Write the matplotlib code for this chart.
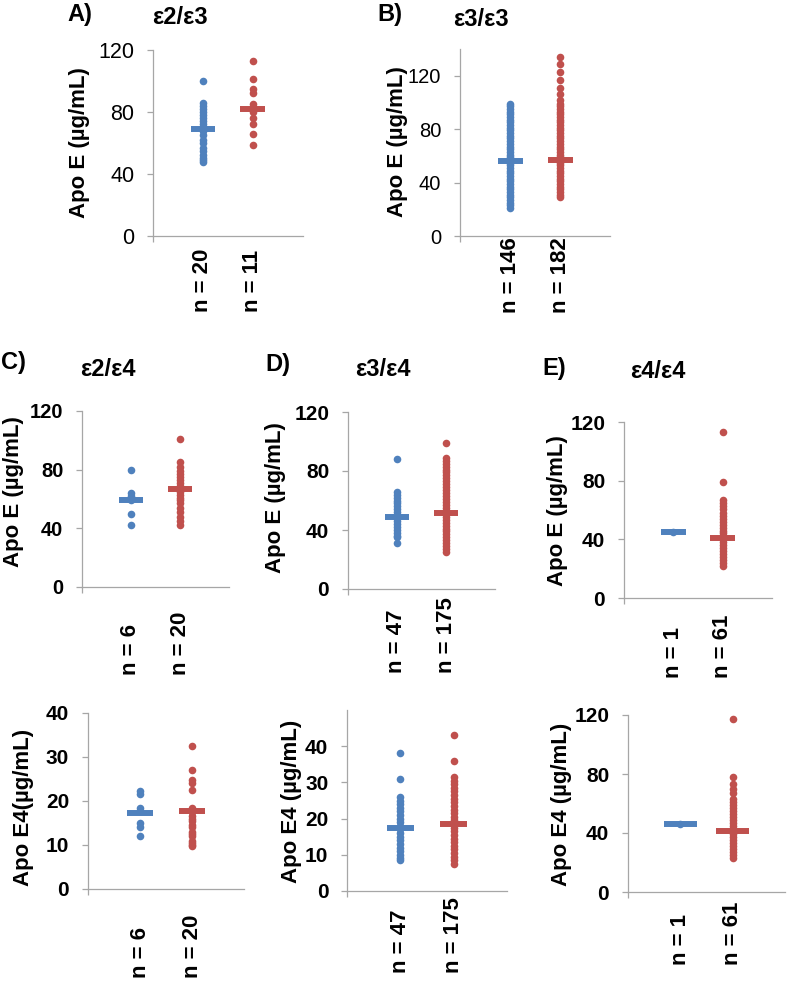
import matplotlib.pyplot as plt
from matplotlib.transforms import blended_transform_factory

plt.rcParams['font.family'] = ['Liberation Sans', 'DejaVu Sans']

W, H = 789, 981
blue = '#4F81BD'
red = '#C0504D'
grey = '#A6A6A6'
groups = [1, 2]

# A) e2/e3 - Apo E
a_blue = [100, 86, 84, 82, 80, 78, 76, 74, 72, 70, 68, 65, 62, 60, 57, 55, 52, 50, 49, 48]
a_red = [113, 101, 95, 92, 85, 82, 80, 76, 72, 66, 59]
a_means = [69, 82]
a_n = ['n = 20', 'n = 11']

# B) e3/e3 - Apo E
b_blue = [99, 97, 95, 93, 91, 89, 87, 85, 83, 81, 79, 77, 75, 73, 71, 69, 67, 65, 63, 61,
          59, 57, 55, 53, 51, 49, 47, 45, 43, 41, 39, 37, 35, 33, 31, 29, 27, 25, 23, 21]
b_red = [134, 129, 123, 117, 111, 106, 102, 99, 97, 95, 93, 91, 89, 87, 85, 83, 81, 79, 77, 75,
         73, 71, 69, 67, 65, 63, 61, 59, 57, 55, 53, 51, 49, 47, 45, 43, 41, 39, 37, 35, 33, 31, 29]
b_means = [56, 57]
b_n = ['n = 146', 'n = 182']

# C) e2/e4 - Apo E and Apo E4
c_blue = [80, 64, 62, 59, 50, 42]
c_red = [101, 85, 82, 79, 77, 75, 73, 71, 69, 67, 65, 63, 61, 59, 57, 54, 51, 48, 45, 42]
c_means = [59.5, 67]
c4_blue = [22.3, 21.5, 18.4, 15, 14, 12]
c4_red = [32.6, 27, 24.8, 24, 22.6, 18.5, 18, 17.5, 16.5, 16, 15.5, 14.5, 14, 13, 12.5, 12,
          11, 10.5, 10, 9.8]
c4_means = [17.2, 17.8]
c_n = ['n = 6', 'n = 20']

# D) e3/e4
d_blue = [88, 66, 64, 62, 60, 58, 56, 54, 52, 50, 48, 46, 44, 42, 40, 38, 36, 35, 31]
d_red = [99, 89, 87, 85, 83, 81, 79, 77, 75, 73, 71, 69, 67, 65, 63, 61, 59, 57, 55, 53, 51,
         49, 47, 45, 43, 41, 39, 37, 35, 33, 31, 29, 27, 25]
d_means = [48.6, 51.7]
d4_blue = [38.2, 30.9, 26, 25, 24, 23, 22, 21, 20, 19, 18, 17, 16, 15, 14, 13, 12, 11, 10, 9, 8.5]
d4_red = [43, 36, 31.5, 30.5, 29.5, 28.5, 27.5, 26.5, 25.5, 24.5, 23.5, 22.5, 21.5, 20.5, 19.5,
          18.5, 17.5, 16.5, 15.5, 14.5, 13.5, 12.5, 11.5, 10.5, 9.5, 8.5, 7.5]
d4_means = [17.5, 18.5]
d_n = ['n = 47', 'n = 175']

# E) e4/e4
e_blue = [45]
e_red = [113, 79, 67, 65, 63, 61, 58, 56, 54, 52, 50, 48, 46, 44, 42, 40, 38, 36, 34, 32, 30,
         28, 26, 24, 22]
e_means = [45, 41]
e4_blue = [46.3]
e4_red = [117, 78, 73, 70, 67, 63, 61, 59, 57, 55, 53, 51, 49, 47, 45, 43, 41, 39, 37, 35, 33,
          31, 29, 27, 25, 23]
e4_means = [46.3, 41.5]
e_n = ['n = 1', 'n = 61']

fig = plt.figure(figsize=(W / 100, H / 100), dpi=100)


def fy(py):
    return 1 - py / H


def panel(rect, blues, reds, means, n_text, n_bottom, ylim, yticks, ylabel, label_xy,
          tick_size=15, tick_bold=True, half=0.25):
    x0, y0, x1, y1 = rect
    ax = fig.add_axes([x0 / W, fy(y1), (x1 - x0) / W, (y1 - y0) / H])
    ax.scatter([groups[0]] * len(blues), blues, s=30, color=blue, linewidths=0, zorder=2,
               clip_on=False)
    ax.scatter([groups[1]] * len(reds), reds, s=30, color=red, linewidths=0, zorder=2,
               clip_on=False)
    ax.hlines(means, [g - half for g in groups], [g + half for g in groups],
              colors=[blue, red], linewidth=4.3, zorder=3)
    ax.set_xlim(0, 3)
    ax.set_ylim(*ylim)
    ax.set_yticks(yticks)
    ax.set_xticks([0])
    ax.set_xticklabels([''])
    for s in ['top', 'right']:
        ax.spines[s].set_visible(False)
    for s in ['left', 'bottom']:
        ax.spines[s].set_color(grey)
        ax.spines[s].set_linewidth(0.9)
    ax.tick_params(axis='both', length=4.5, width=0.9, color=grey, pad=9, labelsize=tick_size)
    if tick_bold:
        for t in ax.get_yticklabels():
            t.set_fontweight('bold')
    ax.set_ylabel(ylabel, fontsize=16, fontweight='bold', va='center')
    ax.yaxis.set_label_coords(label_xy[0] / W, fy(label_xy[1]), transform=fig.transFigure)
    tr = blended_transform_factory(ax.transData, fig.transFigure)
    for g, t in zip(groups, n_text):
        ax.text(g, fy(n_bottom), t, rotation=90, ha='center', va='bottom', transform=tr,
                fontsize=16, fontweight='bold')
    return ax


panel((153, 50, 303, 236), a_blue, a_red, a_means, a_n, 312, (0, 120), [0, 40, 80, 120],
      'Apo E (µg/mL)', (80, 143), tick_size=15.5, tick_bold=False)
panel((460, 49, 610, 236), b_blue, b_red, b_means, b_n, 313, (0, 140), [0, 40, 80, 120],
      'Apo E (µg/mL)', (397, 142), tick_size=14.5, tick_bold=False)

panel((82, 411, 229, 587), c_blue, c_red, c_means, c_n, 675, (0, 120), [0, 40, 80, 120],
      'Apo E (µg/mL)', (14, 492), tick_size=14.5)
panel((348, 412, 495, 589), d_blue, d_red, d_means, d_n, 673, (0, 120), [0, 40, 80, 120],
      'Apo E (µg/mL)', (276, 498), tick_size=15)
panel((624, 422, 772, 598), e_blue, e_red, e_means, e_n, 678, (0, 120), [0, 40, 80, 120],
      'Apo E (µg/mL)', (557, 511), tick_size=15)

panel((88, 713, 244, 889), c4_blue, c4_red, c4_means, c_n, 978, (0, 40), [0, 10, 20, 30, 40],
      'Apo E4(µg/mL)', (24, 807), tick_size=15)
panel((347, 710, 507, 891), d4_blue, d4_red, d4_means, d_n, 973, (0, 50), [0, 10, 20, 30, 40],
      'Apo E4 (µg/mL)', (291, 801), tick_size=15)
panel((628, 715, 785, 892), e4_blue, e4_red, e4_means, e_n, 965, (0, 120), [0, 40, 80, 120],
      'Apo E4 (µg/mL)', (561, 804), tick_size=15, half=0.32)

# panel letters and genotype titles
titles = [('A)', 67, 15), ('ε2/ε3', 152, 17), ('B)', 377, 14), ('ε3/ε3', 453, 19),
          ('C)', 1, 362), ('ε2/ε4', 80, 369), ('D)', 265, 364), ('ε3/ε4', 355, 369),
          ('E)', 542, 369), ('ε4/ε4', 630, 371)]
for txt, x, y in titles:
    fig.text(x / W, fy(y), txt, fontsize=17, fontweight='bold', ha='left', va='center')

fig.savefig('out.png', dpi=100)
